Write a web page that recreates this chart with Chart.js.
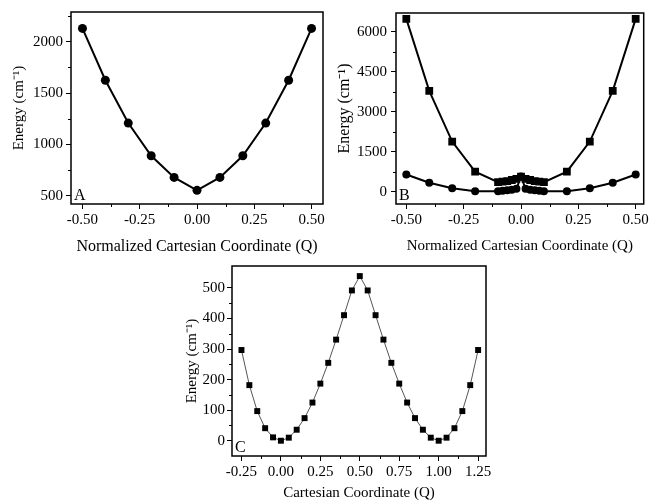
<!DOCTYPE html>
<html><head><meta charset="utf-8">
<script src="https://cdn.jsdelivr.net/npm/chart.js@4/dist/chart.umd.min.js"></script>
<style>
html,body{margin:0;padding:0;background:#fff;width:651px;height:504px;overflow:hidden}
.p{position:absolute}
canvas{display:block}
</style></head><body>
<div class="p" style="left:0;top:0"><canvas id="cA" width="330" height="262"></canvas></div>
<div class="p" style="left:330px;top:0"><canvas id="cB" width="321" height="262"></canvas></div>
<div class="p" style="left:150px;top:255px"><canvas id="cC" width="360" height="249"></canvas></div>
<script>
// ---- Panel A data ----
const qA = [-0.5, -0.4, -0.3, -0.2, -0.1, 0, 0.1, 0.2, 0.3, 0.4, 0.5];
const energyA = [2130, 1625, 1208, 890, 679, 553, 679, 890, 1208, 1625, 2130];
const ticksAX = [-0.5, -0.25, 0, 0.25, 0.5];
const ticksAY = [500, 1000, 1500, 2000];

// ---- Panel B data ----
const qB = [-0.5, -0.4, -0.3, -0.2, -0.1, -0.08, -0.06, -0.04, -0.02, 0, 0.02, 0.04, 0.06, 0.08, 0.1, 0.2, 0.3, 0.4, 0.5];
const energyBUpper = [6480, 3780, 1880, 750, 360, 375, 400, 440, 480, 570, 480, 440, 400, 375, 360, 750, 1880, 3780, 6480];
const energyBLower = [648, 335, 127, 15, 20, 35, 55, 75, 110, 570, 110, 75, 55, 35, 20, 15, 127, 335, 648];
const ticksBX = [-0.5, -0.25, 0, 0.25, 0.5];
const ticksBY = [0, 1500, 3000, 4500, 6000];

// ---- Panel C data ----
const qC = [-0.25, -0.2, -0.15, -0.1, -0.05, 0, 0.05, 0.1, 0.15, 0.2, 0.25, 0.3, 0.35, 0.4, 0.45, 0.5,
            0.55, 0.6, 0.65, 0.7, 0.75, 0.8, 0.85, 0.9, 0.95, 1.0, 1.05, 1.1, 1.15, 1.2, 1.25];
const energyC = [297, 182, 97, 41, 11, 0, 10, 36, 74, 125, 187, 255, 331, 411, 492, 539,
                 492, 411, 331, 255, 187, 125, 74, 36, 10, 0, 10, 41, 97, 182, 297];
const ticksCX = [-0.25, 0, 0.25, 0.5, 0.75, 1.0, 1.25];
const ticksCY = [0, 100, 200, 300, 400, 500];

const FONT = "'Liberation Serif', 'Times New Roman', serif";
const yTitle = 'Energy (cm\u207B\u00B9)';

function pts(xs, ys) { return xs.map((x, i) => ({x: x, y: ys[i]})); }
function mids(arr) { const r = []; for (let i = 0; i < arr.length - 1; i++) r.push((arr[i] + arr[i + 1]) / 2); return r; }

const framePlugin = {
  id: 'framePlugin',
  afterDraw(chart, args, opts) {
    const ctx = chart.ctx, a = chart.chartArea;
    const xs = chart.scales.x, ys = chart.scales.y;
    ctx.save();
    ctx.strokeStyle = '#000';
    ctx.lineWidth = 1;
    (opts.minorX || []).forEach(v => {
      const px = Math.round(xs.getPixelForValue(v)) + 0.5;
      ctx.beginPath(); ctx.moveTo(px, a.bottom); ctx.lineTo(px, a.bottom + 3); ctx.stroke();
    });
    (opts.minorY || []).forEach(v => {
      const py = Math.round(ys.getPixelForValue(v)) + 0.5;
      ctx.beginPath(); ctx.moveTo(a.left, py); ctx.lineTo(a.left - 3, py); ctx.stroke();
    });
    ctx.lineWidth = 1.5;
    ctx.strokeRect(a.left, a.top, a.right - a.left, a.bottom - a.top);
    if (opts.label) {
      ctx.fillStyle = '#000';
      ctx.font = '16px ' + FONT;
      ctx.textAlign = 'left';
      ctx.textBaseline = 'alphabetic';
      ctx.fillText(opts.label, a.left + 3, a.bottom - 4);
    }
    ctx.restore();
  }
};

function makeChart(id, cfg) {
  const datasets = cfg.series.map(s => ({
    data: s.data,
    borderColor: s.lineColor || '#000',
    borderWidth: s.lineWidth || 2,
    pointStyle: s.style,
    pointRadius: s.radius,
    pointBackgroundColor: '#000',
    pointBorderColor: '#000',
    pointBorderWidth: 0,
    tension: 0,
    fill: false,
    showLine: true
  }));
  return new Chart(document.getElementById(id), {
    type: 'scatter',
    data: { datasets: datasets },
    plugins: [framePlugin],
    options: {
      responsive: false,
      animation: false,
      events: [],
      layout: { autoPadding: false, padding: cfg.padding },
      plugins: {
        legend: { display: false },
        tooltip: { enabled: false },
        framePlugin: { minorX: cfg.minorX, minorY: cfg.minorY, label: cfg.label }
      },
      scales: {
        x: {
          type: 'linear', min: cfg.xMin, max: cfg.xMax,
          afterBuildTicks: s => { s.ticks = cfg.xTicks.map(v => ({value: v})); },
          afterFit: s => { s.height = cfg.xHeight; },
          grid: { drawOnChartArea: false, drawTicks: true, tickLength: 5, tickColor: '#000', tickWidth: 1 },
          border: { display: false },
          ticks: { color: '#000', font: { family: FONT, size: 15 }, padding: cfg.xPad, maxRotation: 0,
                   callback: v => v.toFixed(2) },
          title: { display: true, text: cfg.xTitle, color: '#000', font: { family: FONT, size: cfg.xTitleSize },
                   padding: { top: 0, bottom: cfg.xTitlePad } }
        },
        y: {
          type: 'linear', min: cfg.yMin, max: cfg.yMax,
          afterBuildTicks: s => { s.ticks = cfg.yTicks.map(v => ({value: v})); },
          afterFit: s => { s.width = cfg.yWidth; },
          grid: { drawOnChartArea: false, drawTicks: true, tickLength: 5, tickColor: '#000', tickWidth: 1 },
          border: { display: false },
          ticks: { color: '#000', font: { family: FONT, size: 15 }, padding: cfg.yPad,
                   callback: v => String(v) },
          title: { display: true, text: yTitle, color: '#000', font: { family: FONT, size: cfg.yTitleSize },
                   padding: { top: cfg.yTitlePad, bottom: 0 } }
        }
      }
    }
  });
}

makeChart('cA', {
  series: [{ data: pts(qA, energyA), style: 'circle', radius: 4.5 }],
  xMin: -0.55, xMax: 0.55, yMin: 420, yMax: 2290,
  xTicks: ticksAX, yTicks: ticksAY,
  minorX: mids(ticksAX), minorY: mids(ticksAY).concat([2250]),
  padding: { left: 0, right: 7, top: 12, bottom: 0 },
  xHeight: 58, yWidth: 71, xPad: 2, yPad: 3, xTitlePad: 6, yTitlePad: 10,
  xTitleSize: 16, yTitleSize: 15,
  xTitle: 'Normalized Cartesian Coordinate (Q)', label: 'A'
});

makeChart('cB', {
  series: [
    { data: pts(qB, energyBUpper), style: 'rect', radius: 5.5 },
    { data: pts(qB, energyBLower), style: 'circle', radius: 4 }
  ],
  xMin: -0.545, xMax: 0.535, yMin: -460, yMax: 6700,
  xTicks: ticksBX, yTicks: ticksBY,
  minorX: mids(ticksBX), minorY: mids(ticksBY),
  padding: { left: 0, right: 6, top: 12, bottom: 0 },
  xHeight: 58, yWidth: 66, xPad: 2, yPad: 4, xTitlePad: 7, yTitlePad: 5,
  xTitleSize: 15, yTitleSize: 16,
  xTitle: 'Normalized Cartesian Coordinate (Q)', label: 'B'
});

makeChart('cC', {
  series: [{ data: pts(qC, energyC), style: 'rect', radius: 4.2, lineColor: '#555', lineWidth: 1 }],
  xMin: -0.31, xMax: 1.30, yMin: -50, yMax: 572,
  xTicks: ticksCX, yTicks: ticksCY,
  minorX: mids(ticksCX), minorY: mids(ticksCY),
  padding: { left: 0, right: 24, top: 7, bottom: 0 },
  xHeight: 48, yWidth: 82, xPad: 2, yPad: 2, xTitlePad: 2, yTitlePad: 33,
  xTitleSize: 15, yTitleSize: 15,
  xTitle: 'Cartesian Coordinate (Q)', label: 'C'
});
</script>
</body></html>
